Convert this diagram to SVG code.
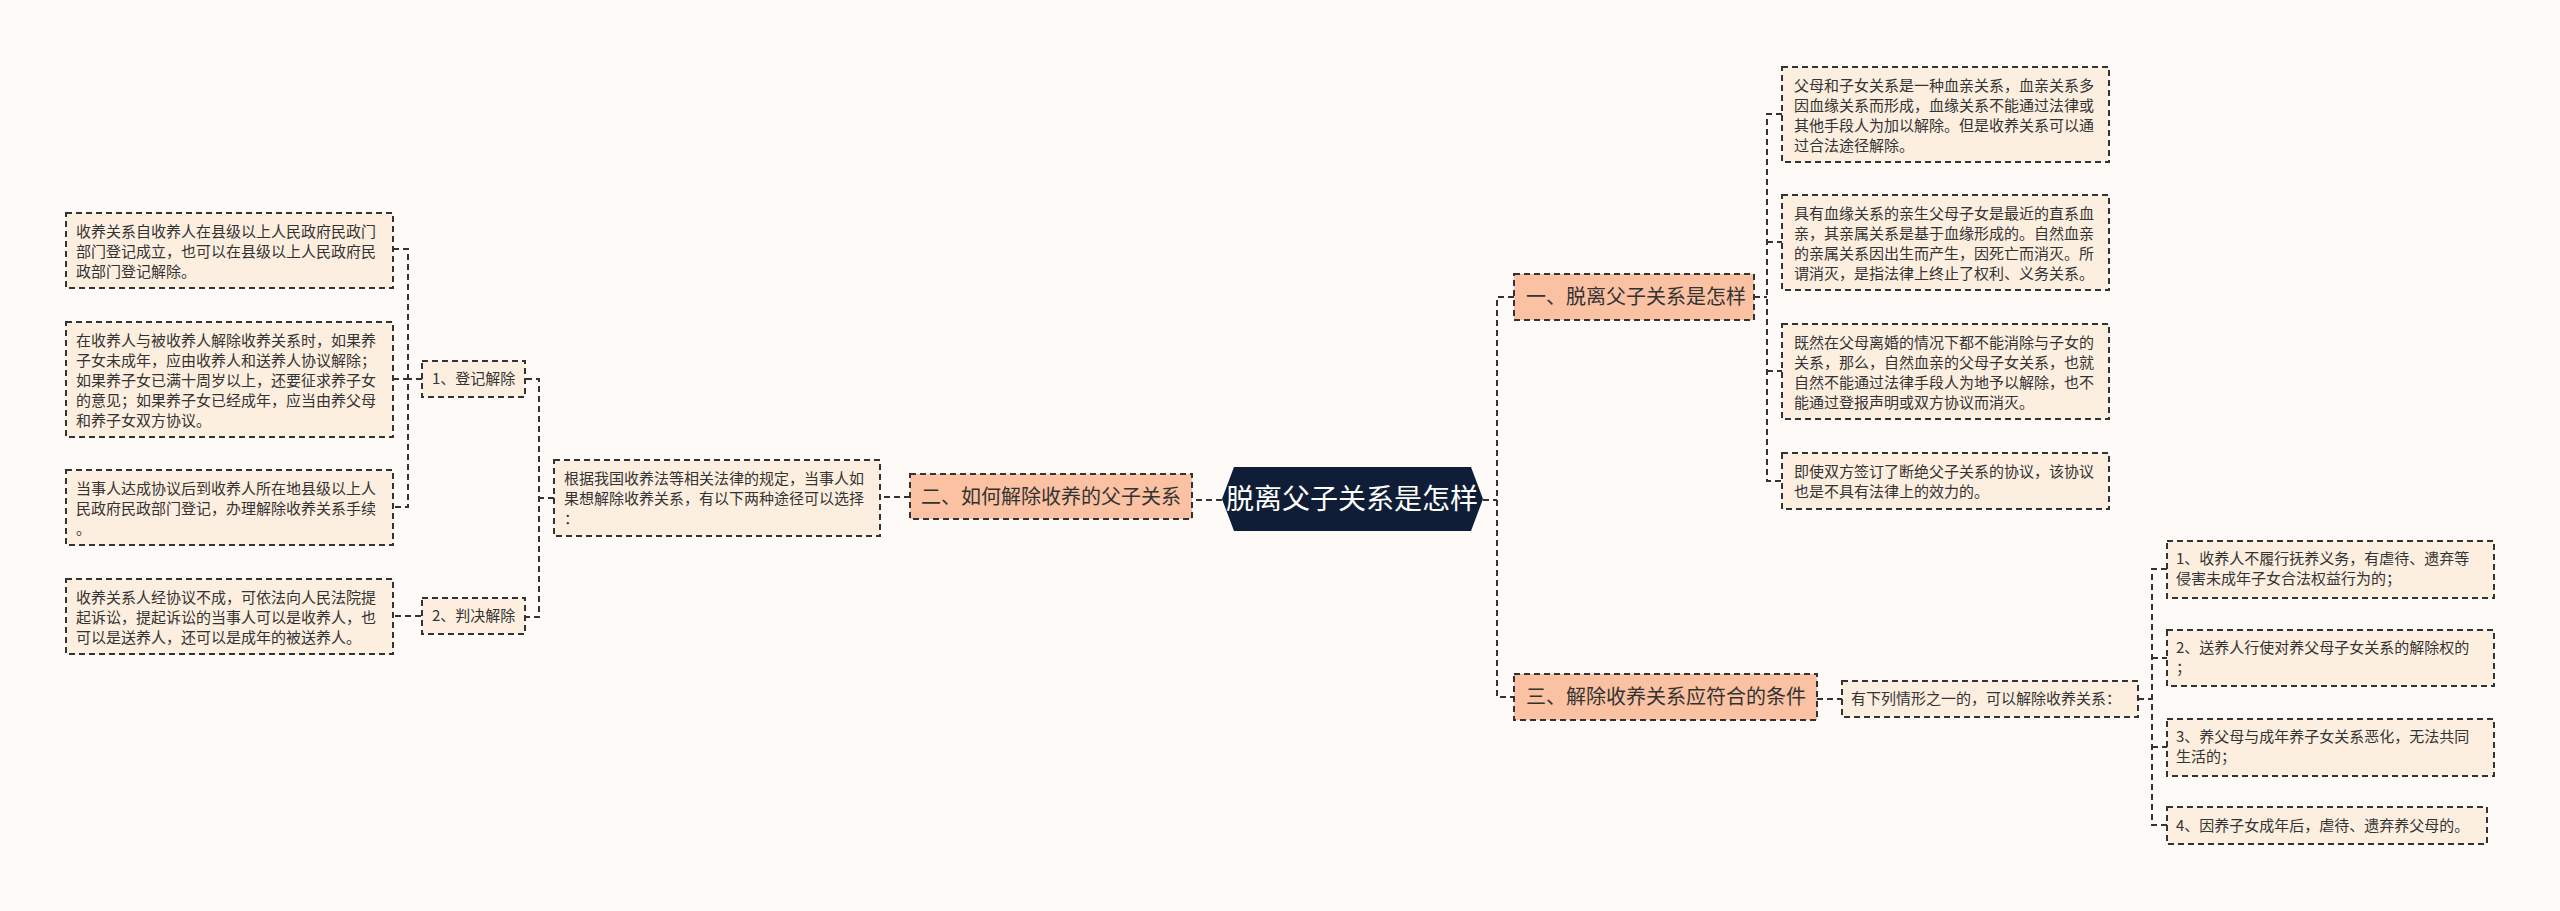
<svg xmlns="http://www.w3.org/2000/svg" width="2560" height="911" viewBox="0 0 2560 911">
<style>
.leaf{fill:#fdefe0;stroke:#333;stroke-width:2;stroke-dasharray:6 4}
.sec{fill:#fac1a2;stroke:#333;stroke-width:2;stroke-dasharray:6 4}
.t{font-family:"Noto Sans CJK SC","Noto Sans",sans-serif;font-size:15px;fill:#333}
.s{font-family:"Noto Sans CJK SC","Noto Sans",sans-serif;font-size:20px;fill:#333}
.c{fill:none;stroke:#333;stroke-width:2;stroke-dasharray:6 4}
</style>
<rect width="2560" height="911" fill="#fdfaf8"/>
<g id="connectors">
<path class="c" d="M1222 500H1192M910 497H880M554 498H539M526 379H539V617H526M422 379H408M393 249H408V507H393M393 379H408M421 616H393"/>
<path class="c" d="M1483 500H1497M1514 297H1497V697H1514M1754 297H1767M1782 114H1767V481H1782M1767 242H1782M1767 371H1782M1817 699H1842M2138 699H2152M2167 569H2152V825H2167M2152 658H2167M2152 747H2167"/>
</g>
<g id="root"><polygon points="1234,467 1471,467 1483,499 1471,531 1234,531 1222,499" fill="#0f1e36"/><text x="1352" y="509" text-anchor="middle" font-family="Noto Sans CJK SC,sans-serif" font-size="28" fill="#fff">脱离父子关系是怎样</text></g>
<g id="s1"><rect class="sec" x="1514" y="274" width="240" height="46"/><text class="s" x="1526" y="304">一、脱离父子关系是怎样</text></g>
<g id="s2"><rect class="sec" x="910" y="474" width="282" height="45"/><text class="s" x="921" y="504">二、如何解除收养的父子关系</text></g>
<g id="s3"><rect class="sec" x="1514" y="674" width="303" height="46"/><text class="s" x="1526" y="704">三、解除收养关系应符合的条件</text></g>
<g id="r1"><rect class="leaf" x="1782" y="67" width="327" height="95"/><text class="t" x="1794" y="91">父母和子女关系是一种血亲关系，血亲关系多<tspan x="1794" dy="20">因血缘关系而形成，血缘关系不能通过法律或</tspan><tspan x="1794" dy="20">其他手段人为加以解除。但是收养关系可以通</tspan><tspan x="1794" dy="20">过合法途径解除。</tspan></text></g>
<g id="r2"><rect class="leaf" x="1782" y="195" width="327" height="95"/><text class="t" x="1794" y="219">具有血缘关系的亲生父母子女是最近的直系血<tspan x="1794" dy="20">亲，其亲属关系是基于血缘形成的。自然血亲</tspan><tspan x="1794" dy="20">的亲属关系因出生而产生，因死亡而消灭。所</tspan><tspan x="1794" dy="20">谓消灭，是指法律上终止了权利、义务关系。</tspan></text></g>
<g id="r3"><rect class="leaf" x="1782" y="324" width="327" height="95"/><text class="t" x="1794" y="348">既然在父母离婚的情况下都不能消除与子女的<tspan x="1794" dy="20">关系，那么，自然血亲的父母子女关系，也就</tspan><tspan x="1794" dy="20">自然不能通过法律手段人为地予以解除，也不</tspan><tspan x="1794" dy="20">能通过登报声明或双方协议而消灭。</tspan></text></g>
<g id="r4"><rect class="leaf" x="1782" y="453" width="327" height="56"/><text class="t" x="1794" y="477">即使双方签订了断绝父子关系的协议，该协议<tspan x="1794" dy="20">也是不具有法律上的效力的。</tspan></text></g>
<g id="basis"><rect class="leaf" x="554" y="460" width="326" height="76"/><text class="t" x="564" y="484">根据我国收养法等相关法律的规定，当事人如<tspan x="564" dy="20">果想解除收养关系，有以下两种途径可以选择</tspan><tspan x="564" dy="20">：</tspan></text></g>
<g id="m1"><rect class="leaf" x="422" y="361" width="103" height="36"/><text class="t" x="432" y="384">1、登记解除</text></g>
<g id="m2"><rect class="leaf" x="422" y="598" width="103" height="36"/><text class="t" x="432" y="621">2、判决解除</text></g>
<g id="l1"><rect class="leaf" x="66" y="213" width="327" height="75"/><text class="t" x="76" y="237">收养关系自收养人在县级以上人民政府民政门<tspan x="76" dy="20">部门登记成立，也可以在县级以上人民政府民</tspan><tspan x="76" dy="20">政部门登记解除。</tspan></text></g>
<g id="l2"><rect class="leaf" x="66" y="322" width="327" height="115"/><text class="t" x="76" y="346">在收养人与被收养人解除收养关系时，如果养<tspan x="76" dy="20">子女未成年，应由收养人和送养人协议解除；</tspan><tspan x="76" dy="20">如果养子女已满十周岁以上，还要征求养子女</tspan><tspan x="76" dy="20">的意见；如果养子女已经成年，应当由养父母</tspan><tspan x="76" dy="20">和养子女双方协议。</tspan></text></g>
<g id="l3"><rect class="leaf" x="66" y="470" width="327" height="75"/><text class="t" x="76" y="494">当事人达成协议后到收养人所在地县级以上人<tspan x="76" dy="20">民政府民政部门登记，办理解除收养关系手续</tspan><tspan x="76" dy="20">。</tspan></text></g>
<g id="l4"><rect class="leaf" x="66" y="579" width="327" height="75"/><text class="t" x="76" y="603">收养关系人经协议不成，可依法向人民法院提<tspan x="76" dy="20">起诉讼，提起诉讼的当事人可以是收养人，也</tspan><tspan x="76" dy="20">可以是送养人，还可以是成年的被送养人。</tspan></text></g>
<g id="cond"><rect class="leaf" x="1842" y="681" width="296" height="36"/><text class="t" x="1851" y="704" font-size="14">有下列情形之一的，可以解除收养关系：</text></g>
<g id="c1"><rect class="leaf" x="2167" y="541" width="327" height="57"/><text class="t" x="2176" y="564">1、收养人不履行抚养义务，有虐待、遗弃等<tspan x="2176" dy="20">侵害未成年子女合法权益行为的；</tspan></text></g>
<g id="c2"><rect class="leaf" x="2167" y="630" width="327" height="56"/><text class="t" x="2176" y="653">2、送养人行使对养父母子女关系的解除权的<tspan x="2176" dy="20">；</tspan></text></g>
<g id="c3"><rect class="leaf" x="2167" y="719" width="327" height="57"/><text class="t" x="2176" y="742">3、养父母与成年养子女关系恶化，无法共同<tspan x="2176" dy="20">生活的；</tspan></text></g>
<g id="c4"><rect class="leaf" x="2167" y="807" width="320" height="37"/><text class="t" x="2176" y="831">4、因养子女成年后，虐待、遗弃养父母的。</text></g>
</svg>
